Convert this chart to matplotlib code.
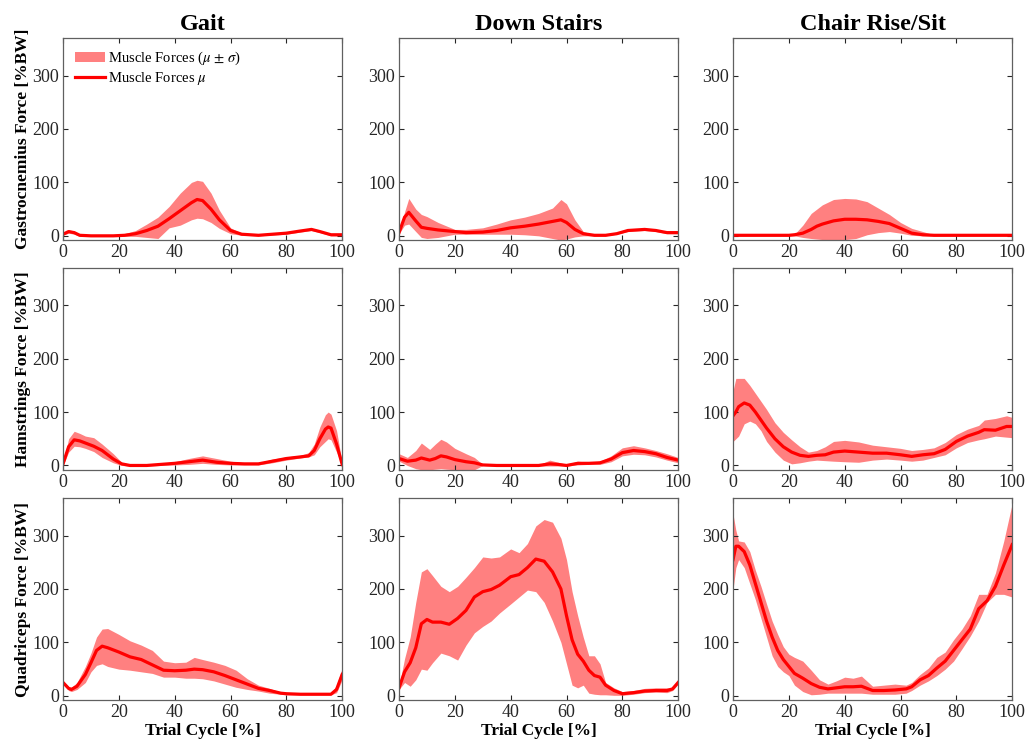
import numpy as np
import matplotlib
matplotlib.use('Agg')
import matplotlib.pyplot as plt
from matplotlib.patches import Patch
from matplotlib.lines import Line2D

plt.rcParams['font.family'] = ['Liberation Serif', 'DejaVu Serif']
plt.rcParams['mathtext.fontset'] = 'stix'

# --- Gait ---
gait_gas_x = [0, 2, 4, 6, 10, 18, 22, 26, 30, 34, 38, 42, 46, 48, 50, 53, 56, 60, 64, 70, 80, 85, 89, 92, 96, 100]
gait_gas_mean = [3, 8, 6, 1, 0, 0, 1, 4, 10, 18, 32, 47, 62, 68, 66, 50, 30, 10, 3, 1, 5, 9, 12, 8, 2, 2]
gait_gas_hi = [5, 11, 9, 3, 1, 1, 4, 10, 22, 35, 55, 80, 100, 104, 102, 80, 48, 15, 5, 2, 7, 11, 14, 10, 4, 3]
gait_gas_lo = [1, 5, 3, -1, -1, -1, -1, -1, -3, -5, 15, 20, 30, 33, 32, 25, 14, 4, 1, 0, 3, 7, 10, 6, 0, 0]

gait_ham_x = [0, 2, 4, 6, 8, 11, 14, 18, 21, 24, 30, 40, 45, 50, 55, 60, 65, 70, 75, 80, 85, 88, 90, 92, 94, 95, 96, 98, 100]
gait_ham_mean = [3, 35, 48, 46, 42, 36, 28, 12, 3, 0, 0, 4, 7, 10, 6, 4, 3, 3, 8, 13, 16, 18, 28, 50, 68, 72, 70, 40, 2]
gait_ham_hi = [6, 50, 64, 60, 55, 52, 40, 22, 6, 2, 1, 7, 13, 18, 13, 8, 5, 5, 12, 16, 19, 24, 40, 72, 95, 100, 96, 65, 5]
gait_ham_lo = [0, 25, 36, 35, 32, 26, 15, 5, 0, -1, -1, 1, 2, 4, 2, 1, 1, 1, 5, 10, 14, 16, 20, 35, 45, 50, 48, 25, 0]

gait_quad_x = [0, 2, 3, 5, 8, 10, 12, 14, 16, 20, 24, 28, 32, 36, 40, 44, 47, 50, 54, 58, 62, 66, 70, 74, 78, 80, 85, 90, 96, 98, 100]
gait_quad_mean = [25, 14, 12, 18, 40, 62, 85, 93, 90, 82, 73, 68, 58, 48, 47, 48, 50, 49, 45, 38, 30, 22, 14, 10, 5, 4, 3, 3, 3, 12, 40]
gait_quad_hi = [28, 17, 16, 25, 55, 80, 110, 125, 126, 115, 103, 95, 85, 65, 62, 63, 72, 68, 63, 57, 48, 32, 20, 14, 7, 5, 4, 4, 4, 20, 52]
gait_quad_lo = [22, 10, 8, 12, 25, 45, 57, 60, 55, 50, 48, 45, 42, 35, 35, 33, 33, 32, 28, 22, 16, 12, 9, 5, 3, 2, 2, 2, 2, 6, 30]

# --- Down Stairs ---
down_gas_x = [0, 2, 3.5, 6, 8, 10, 14, 20, 24, 30, 35, 40, 45, 50, 55, 58, 60, 63, 66, 70, 74, 78, 82, 88, 92, 96, 100]
down_gas_mean = [6, 35, 44, 28, 16, 14, 11, 8, 6, 7, 10, 15, 18, 22, 27, 30, 25, 12, 4, 1, 1, 4, 10, 12, 10, 6, 6]
down_gas_hi = [8, 45, 70, 50, 40, 36, 25, 12, 12, 15, 22, 30, 35, 42, 52, 68, 60, 30, 8, 2, 2, 5, 12, 14, 12, 8, 8]
down_gas_lo = [4, 20, 22, 8, -3, -5, -3, 3, 3, 3, 3, 3, 2, 0, -5, -8, -6, -2, 0, 0, 0, 3, 8, 10, 8, 4, 4]

down_ham_x = [0, 3, 6, 8, 11, 13, 15, 17, 20, 24, 27, 30, 35, 50, 54, 57, 60, 64, 68, 72, 76, 80, 84, 88, 92, 96, 100]
down_ham_mean = [13, 8, 10, 14, 10, 13, 18, 16, 11, 7, 5, 1, 0, 0, 3, 2, 0, 4, 4, 5, 12, 24, 28, 26, 22, 15, 10]
down_ham_hi = [22, 15, 28, 42, 30, 40, 49, 44, 32, 22, 15, 2, 1, 1, 10, 6, 2, 8, 6, 8, 18, 33, 37, 33, 28, 22, 15]
down_ham_lo = [8, 0, -6, -8, -8, -7, -6, -7, -8, -8, -8, 0, -1, -1, -1, -1, -1, 1, 2, 2, 7, 18, 21, 20, 16, 10, 5]

down_quad_x = [0, 2, 4, 6, 8, 10, 12, 15, 18, 21, 24, 27, 30, 33, 36, 40, 43, 46, 49, 52, 55, 58, 60, 62, 64, 66, 68, 70, 72, 74, 77, 80, 84, 88, 92, 96, 98, 100]
down_quad_mean = [15, 45, 62, 90, 135, 143, 138, 138, 134, 145, 160, 185, 195, 199, 207, 223, 227, 240, 256, 252, 232, 200, 150, 105, 78, 65, 48, 38, 35, 20, 10, 4, 6, 9, 10, 10, 13, 25]
down_quad_hi = [18, 70, 110, 175, 232, 238, 225, 205, 195, 205, 222, 240, 260, 258, 260, 275, 268, 285, 318, 330, 325, 295, 255, 195, 150, 110, 75, 75, 60, 25, 15, 8, 10, 14, 15, 15, 15, 28]
down_quad_lo = [12, 25, 18, 30, 50, 48, 62, 80, 75, 67, 95, 118, 130, 140, 155, 172, 185, 198, 195, 175, 140, 100, 60, 20, 15, 20, 5, 3, 2, 2, 1, 1, 3, 6, 7, 6, 10, 22]

# --- Chair Rise/Sit ---
chair_gas_x = [0, 20, 22, 25, 28, 30, 32, 36, 40, 44, 48, 52, 56, 60, 64, 68, 72, 100]
chair_gas_mean = [1, 1, 2, 5, 12, 18, 22, 28, 31, 31, 30, 27, 23, 14, 5, 2, 1, 1]
chair_gas_hi = [2, 2, 3, 20, 42, 50, 58, 68, 70, 69, 64, 52, 40, 25, 14, 8, 2, 2]
chair_gas_lo = [0, 0, 0, -3, -5, -6, -7, -8, -7, -5, 2, 6, 8, 5, 1, 0, 0, 0]

chair_ham_x = [0, 1, 2, 4, 6, 8, 10, 12, 15, 18, 21, 24, 27, 30, 33, 36, 40, 45, 50, 55, 60, 64, 68, 72, 76, 80, 84, 88, 90, 94, 98, 100]
chair_ham_mean = [93, 100, 110, 117, 113, 100, 85, 70, 50, 35, 25, 19, 17, 19, 20, 25, 27, 25, 23, 23, 20, 17, 20, 22, 30, 45, 55, 62, 67, 66, 73, 73]
chair_ham_hi = [140, 163, 163, 163, 150, 135, 120, 105, 80, 62, 48, 35, 25, 28, 35, 45, 47, 44, 38, 35, 32, 28, 30, 33, 43, 58, 68, 75, 85, 88, 93, 90]
chair_ham_lo = [45, 50, 55, 78, 83, 78, 65, 45, 25, 10, 3, 5, 8, 10, 9, 8, 7, 6, 10, 12, 10, 8, 10, 15, 20, 33, 43, 48, 50, 55, 53, 52]

chair_quad_x = [0, 1, 2, 4, 6, 8, 10, 12, 14, 16, 18, 20, 22, 25, 28, 31, 34, 37, 40, 43, 46, 50, 54, 58, 62, 64, 67, 70, 73, 76, 79, 82, 85, 88, 91, 94, 97, 100]
chair_quad_mean = [255, 280, 280, 270, 245, 210, 175, 140, 110, 85, 68, 55, 42, 33, 23, 16, 13, 15, 17, 17, 18, 10, 10, 11, 13, 17, 30, 38, 52, 65, 85, 105, 125, 163, 178, 205, 245, 283]
chair_quad_hi = [340, 310, 290, 288, 270, 235, 205, 172, 140, 115, 92, 78, 72, 65, 48, 30, 22, 28, 35, 33, 37, 18, 20, 22, 20, 25, 40, 52, 72, 82, 105, 125, 150, 190, 190, 230, 290, 360]
chair_quad_lo = [200, 240, 255, 240, 210, 180, 145, 110, 75, 55, 45, 38, 20, 8, 2, 3, 5, 5, 5, 5, 5, 3, 3, 3, 5, 10, 20, 28, 38, 50, 65, 88, 112, 140, 175, 190, 190, 185]

titles = ['Gait', 'Down Stairs', 'Chair Rise/Sit']
ylabels = ['Gastrocnemius Force [%BW]', 'Hamstrings Force [%BW]', 'Quadriceps Force [%BW]']

panels = [
    [(gait_gas_x, gait_gas_mean, gait_gas_lo, gait_gas_hi),
     (down_gas_x, down_gas_mean, down_gas_lo, down_gas_hi),
     (chair_gas_x, chair_gas_mean, chair_gas_lo, chair_gas_hi)],
    [(gait_ham_x, gait_ham_mean, gait_ham_lo, gait_ham_hi),
     (down_ham_x, down_ham_mean, down_ham_lo, down_ham_hi),
     (chair_ham_x, chair_ham_mean, chair_ham_lo, chair_ham_hi)],
    [(gait_quad_x, gait_quad_mean, gait_quad_lo, gait_quad_hi),
     (down_quad_x, down_quad_mean, down_quad_lo, down_quad_hi),
     (chair_quad_x, chair_quad_mean, chair_quad_lo, chair_quad_hi)],
]

fig = plt.figure(figsize=(10.30, 7.48), dpi=100)

lefts = [0.0612, 0.3874, 0.7117]
bottoms = [0.679, 0.372, 0.064]
w = 0.271
h = 0.270

for r in range(3):
    for c in range(3):
        ax = fig.add_axes([lefts[c], bottoms[r], w, h])
        x, m, lo, hi = panels[r][c]
        ax.fill_between(x, lo, hi, color='#ff8080', linewidth=0)
        ax.plot(x, m, color='red', linewidth=2.3)
        ax.set_xlim(0, 100)
        ax.set_ylim(-8, 370)
        ax.set_xticks([0, 20, 40, 60, 80, 100])
        ax.set_yticks([0, 100, 200, 300])
        ax.tick_params(direction='in', top=True, right=True, length=3.5,
                       labelsize=13, colors='#262626', width=0.8, pad=3)
        for s in ax.spines.values():
            s.set_color('#606060')
            s.set_linewidth(0.9)
        if r == 0:
            ax.set_title(titles[c], fontsize=17.5, fontweight='bold', pad=6)
        if c == 0:
            ax.set_ylabel(ylabels[r], fontsize=12.5, fontweight='bold', labelpad=1)
        if r == 2:
            ax.set_xlabel('Trial Cycle [%]', fontsize=12.5, fontweight='bold', labelpad=1)
        if r == 0 and c == 0:
            handles = [Patch(facecolor='#ff8080', edgecolor='none'),
                       Line2D([0], [0], color='red', linewidth=2.3)]
            ax.legend(handles, [r'Muscle Forces ($\mu$ $\pm$ $\sigma$)', r'Muscle Forces $\mu$'],
                      loc='upper left', frameon=False, fontsize=10.5,
                      handlelength=2.1, handletextpad=0.2, labelspacing=0.2,
                      borderaxespad=0.4)

fig.savefig('out.png', dpi=100)
